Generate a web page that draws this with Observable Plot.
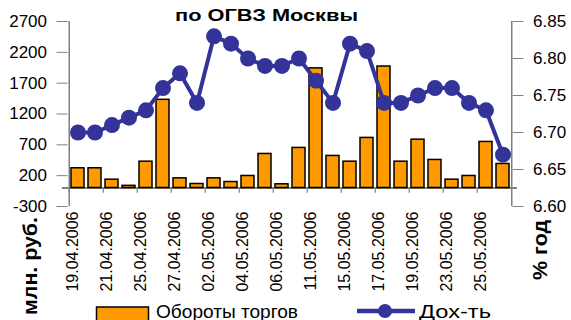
<!DOCTYPE html>
<html>
<head>
<meta charset="utf-8">
<script src="https://cdn.jsdelivr.net/npm/d3@7"></script>
<script src="https://cdn.jsdelivr.net/npm/@observablehq/plot@0.6"></script>
<style>
  html, body { margin: 0; padding: 0; background: #fff; }
  #wrap { position: relative; width: 571px; height: 320px; overflow: hidden; font-family: "Liberation Sans", Arial, sans-serif; }
  #wrap svg { position: absolute; left: 0; top: 0; }
</style>
</head>
<body>
<div id="wrap"></div>
<script>
const dates = ["19.04.2006","20.04.2006","21.04.2006","24.04.2006","25.04.2006","26.04.2006","27.04.2006","28.04.2006","02.05.2006","03.05.2006","04.05.2006","05.05.2006","06.05.2006","10.05.2006","11.05.2006","12.05.2006","15.05.2006","16.05.2006","17.05.2006","18.05.2006","19.05.2006","22.05.2006","23.05.2006","24.05.2006","25.05.2006","26.05.2006"];
const turnover = [320,320,135,35,427,1430,157,65,157,97,195,552,60,650,1940,520,427,812,1970,427,784,455,135,195,747,390];
const yields = [6.70,6.70,6.71,6.72,6.73,6.76,6.78,6.74,6.83,6.82,6.80,6.79,6.79,6.80,6.77,6.74,6.82,6.81,6.74,6.74,6.75,6.76,6.76,6.74,6.73,6.67];
const tickDates = dates.filter((d, i) => i % 2 === 0);
const leftTicks = [-300, 200, 700, 1200, 1700, 2200, 2700];
const rightTicks = ["6.60", "6.65", "6.70", "6.75", "6.80", "6.85"];
const title = "по ОГВЗ Москвы";
const leftTitle = "млн. руб.";
const rightTitle = "% год";
const seriesNames = ["Обороты торгов", "Дох-ть"];

const leftDomain = [-300, 2700];
const rightDomain = [6.60, 6.85];
const toLeft = v => leftDomain[0] + (v - rightDomain[0]) / (rightDomain[1] - rightDomain[0]) * (leftDomain[1] - leftDomain[0]);
const fromLeft = v => rightDomain[0] + (v - leftDomain[0]) / (leftDomain[1] - leftDomain[0]) * (rightDomain[1] - rightDomain[0]);

const data = dates.map((d, i) => ({date: d, turnover: turnover[i], yield: yields[i]}));

const W = 571, H = 320, mL = 62, mR = 54, mT = 21, mB = 114;
const step = (W - mL - mR) / dates.length;
const orange = "#FF9900", navy = "#333399", gray = "#808080";

const chart = Plot.plot({
  width: W, height: H,
  marginLeft: mL, marginRight: mR, marginTop: mT, marginBottom: mB,
  style: {fontFamily: "'Liberation Sans', Arial, sans-serif", background: "transparent", overflow: "visible"},
  x: {type: "band", domain: dates, paddingInner: 0.24, paddingOuter: 0.12, axis: null},
  y: {domain: leftDomain, axis: null},
  marks: [
    Plot.ruleX([dates[0]], {dx: -step / 2, y1: leftDomain[0], y2: leftDomain[1], stroke: gray, strokeWidth: 1.5}),
    Plot.ruleX([dates[dates.length - 1]], {dx: step / 2, y1: leftDomain[0], y2: leftDomain[1], stroke: gray, strokeWidth: 1.5}),
    Plot.ruleX(tickDates, {x: d => d, dx: -step / 2, y1: 0, y2: -85, stroke: gray, strokeWidth: 1.2}),
    Plot.ruleY([0], {stroke: gray, strokeWidth: 2}),
    Plot.axisY({anchor: "left", label: null, ticks: leftTicks, tickSize: 11, dx: 5.5, tickPadding: 10, fontSize: 17, stroke: gray, fill: "black", tickFormat: d => String(d)}),
    Plot.axisY({anchor: "right", label: null, ticks: rightTicks.map(t => toLeft(+t)), tickSize: 11, dx: -5.5, tickPadding: 10, fontSize: 17, stroke: gray, fill: "black", tickFormat: d => fromLeft(d).toFixed(2)}),
    Plot.barY(data, {x: "date", y1: 0, y2: "turnover", fill: orange, stroke: "black", strokeWidth: 1.5}),
    Plot.line(data, {x: "date", y: d => toLeft(d.yield), stroke: navy, strokeWidth: 4}),
    Plot.dot(data, {x: "date", y: d => toLeft(d.yield), r: 8, fill: navy}),
    Plot.text(tickDates, {x: d => d, frameAnchor: "bottom", rotate: -90, textAnchor: "end", dy: 5, fontSize: 16, fill: "black"})
  ]
});

const wrap = document.getElementById("wrap");
wrap.appendChild(chart);

// overlay: title, axis titles, legend
const ov = d3.select(wrap).append("svg").attr("width", W).attr("height", H)
  .style("font-family", "'Liberation Sans', Arial, sans-serif");

ov.append("text").attr("x", 175).attr("y", 20.5).attr("font-size", 16).attr("font-weight", "bold")
  .attr("textLength", 183).attr("lengthAdjust", "spacingAndGlyphs").text(title);

ov.append("text").attr("transform", "translate(37,266) rotate(-90)").attr("text-anchor", "middle")
  .attr("font-size", 21).attr("font-weight", "bold").attr("textLength", 98).attr("lengthAdjust", "spacingAndGlyphs").text(leftTitle);

ov.append("text").attr("transform", "translate(547,250) rotate(-90)").attr("text-anchor", "middle")
  .attr("font-size", 21).attr("font-weight", "bold").attr("textLength", 60).attr("lengthAdjust", "spacingAndGlyphs").text(rightTitle);

ov.append("rect").attr("x", 96.5).attr("y", 307).attr("width", 52).attr("height", 14)
  .attr("fill", orange).attr("stroke", "black").attr("stroke-width", 1.5);
ov.append("text").attr("x", 156).attr("y", 317.5).attr("font-size", 18)
  .attr("textLength", 142).attr("lengthAdjust", "spacingAndGlyphs").text(seriesNames[0]);

ov.append("line").attr("x1", 357).attr("x2", 415).attr("y1", 311).attr("y2", 311)
  .attr("stroke", navy).attr("stroke-width", 4.5);
ov.append("circle").attr("cx", 385).attr("cy", 311).attr("r", 7).attr("fill", navy);
ov.append("text").attr("x", 419).attr("y", 317.5).attr("font-size", 18)
  .attr("textLength", 72).attr("lengthAdjust", "spacingAndGlyphs").text(seriesNames[1]);
</script>
</body>
</html>
